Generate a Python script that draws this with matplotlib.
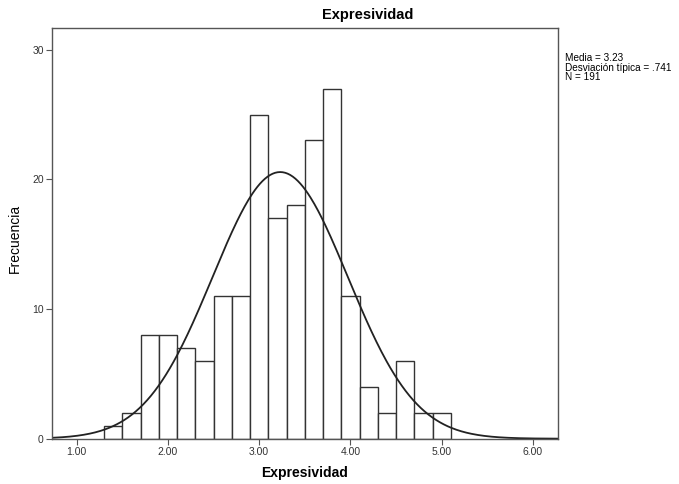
import numpy as np
import matplotlib
matplotlib.use("Agg")
import matplotlib.pyplot as plt

plt.rcParams['font.family'] = ['Liberation Sans', 'DejaVu Sans']

bin_edges = [1.3, 1.5, 1.7, 1.9, 2.1, 2.3, 2.5, 2.7, 2.9, 3.1, 3.3, 3.5, 3.7, 3.9, 4.1, 4.3, 4.5, 4.7, 4.9, 5.1]
counts = [1, 2, 8, 8, 7, 6, 11, 11, 25, 17, 18, 23, 27, 11, 4, 2, 6, 2, 2]
mean = 3.23
std = 0.741
n = 191
xticks = [1, 2, 3, 4, 5, 6]
xtick_labels = ["1.00", "2.00", "3.00", "4.00", "5.00", "6.00"]
yticks = [0, 10, 20, 30]

fig = plt.figure(figsize=(6.79, 4.84), dpi=100)
W, H = 679, 484
ax = fig.add_axes([52 / W, (H - 438.7) / H, (557.7 - 52) / W, (438.7 - 27.7) / H])

edges = np.array(bin_edges)
widths = np.diff(edges)
ax.bar(edges[:-1], counts, width=widths, align='edge', facecolor='white',
       edgecolor='#333333', linewidth=1.0)

xmin, xmax = 0.73, 6.27
xs = np.linspace(xmin, xmax, 400)
bw = widths[0]
ys = n * bw / (std * np.sqrt(2 * np.pi)) * np.exp(-0.5 * ((xs - mean) / std) ** 2)
ax.plot(xs, ys, color='#222222', linewidth=1.3)

ax.set_xlim(xmin, xmax)
ax.set_ylim(0, 31.7)
ax.set_xticks(xticks)
ax.set_xticklabels(xtick_labels, fontsize=7.5, color='#333333')
ax.set_yticks(yticks)
ax.set_yticklabels([str(v) for v in yticks], fontsize=7.5, color='#333333')
ax.tick_params(direction='out', length=4, width=0.8, color='#555555', pad=2)
for s in ax.spines.values():
    s.set_color('#555555')
    s.set_linewidth(1.0)

fig.text(368 / W, 1 - 15 / H, "Expresividad", ha='center', va='center',
         fontsize=10.5, fontweight='bold')
fig.text(305 / W, 1 - 473 / H, "Expresividad", ha='center', va='center',
         fontsize=10, fontweight='bold')
fig.text(15 / W, 1 - 238 / H, "Frecuencia", ha='center', va='center',
         rotation=90, fontsize=10)
fig.text(565 / W, 1 - 53 / H,
         "Media = %.2f\nDesviación típica = .741\nN = %d" % (mean, n),
         ha='left', va='top', fontsize=7.2, linespacing=0.95)

fig.savefig("out.png", dpi=100)
